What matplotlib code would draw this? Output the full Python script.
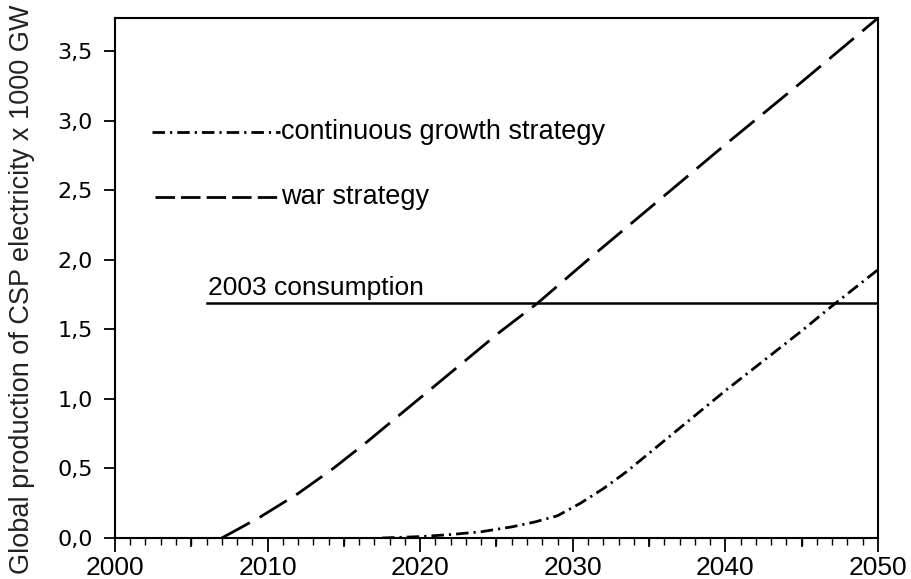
import matplotlib.pyplot as plt
from matplotlib.ticker import MultipleLocator, FuncFormatter

# data
war_years = [2007, 2009.5, 2012, 2014.3, 2016.5, 2018.7, 2020.8, 2023, 2025.2, 2027.7,
             2031.3, 2035, 2040, 2045, 2050]
war_vals = [0.0, 0.15, 0.32, 0.50, 0.69, 0.89, 1.08, 1.28, 1.48, 1.69,
            2.03, 2.37, 2.83, 3.28, 3.74]

cont_years = [2017.5, 2020, 2022, 2024, 2026, 2027.5, 2029, 2030.5, 2032, 2033.5,
              2035, 2040, 2045, 2047, 2050]
cont_vals = [0.0, 0.01, 0.025, 0.045, 0.08, 0.115, 0.16, 0.25, 0.355, 0.475,
             0.61, 1.06, 1.49, 1.67, 1.93]

consumption_2003 = 1.69
consumption_span = [2006, 2050]

plt.rcParams['font.family'] = ['Liberation Sans', 'DejaVu Sans']

fig = plt.figure(figsize=(9.11, 5.79), dpi=100)
ax = fig.add_axes([0.1262, 0.0708, 0.8376, 0.8981])

war_dash = (11.5, 4)
cont_dash = (4.5, 1.8, 0.8, 1.8)

ax.plot(war_years, war_vals, color='black', lw=2, dashes=war_dash)
ax.plot(cont_years, cont_vals, color='black', lw=2, dashes=cont_dash)
ax.plot(consumption_span, [consumption_2003] * 2, color='black', lw=1.8)
ax.text(2006.1, consumption_2003 + 0.025, '2003 consumption', fontsize=19, va='bottom')

# in-plot legend
ax.plot([2002.4, 2010.8], [2.92, 2.92], color='black', lw=2, dashes=cont_dash)
ax.text(2010.9, 2.92, 'continuous growth strategy', fontsize=19.5, va='center')
ax.plot([2002.6, 2010.6], [2.45, 2.45], color='black', lw=2, dashes=(7, 2.2))
ax.text(2010.9, 2.45, 'war strategy', fontsize=19.5, va='center')

ax.set_xlim(2000, 2050)
ax.set_ylim(0, 3.74)
ax.xaxis.set_major_locator(MultipleLocator(10))
ax.xaxis.set_minor_locator(MultipleLocator(1))
ax.yaxis.set_major_locator(MultipleLocator(0.5))
ax.yaxis.set_major_formatter(FuncFormatter(lambda v, p: f'{v:.1f}'.replace('.', ',')))
ax.tick_params(axis='y', direction='out', length=8, width=1.3, pad=8)
ax.tick_params(axis='x', which='major', direction='out', length=10, width=1.3, labelsize=19, pad=3)
ax.tick_params(axis='x', which='minor', direction='out', length=5, width=1)
for t in ax.get_yticklabels():
    t.set_fontfamily('DejaVu Sans')
    t.set_fontsize(16)

# longer ticks every 5 years
for yr in range(2005, 2050, 10):
    ax.plot([yr, yr], [0, -0.055], color='black', lw=1.3, clip_on=False)

for s in ax.spines.values():
    s.set_linewidth(1.5)

fig.text(0.024, 0.5, 'Global production of CSP electricity x 1000 GW', fontsize=19.5,
         color='#222222', rotation=90, ha='center', va='center')

fig.savefig('out.png', dpi=100)
